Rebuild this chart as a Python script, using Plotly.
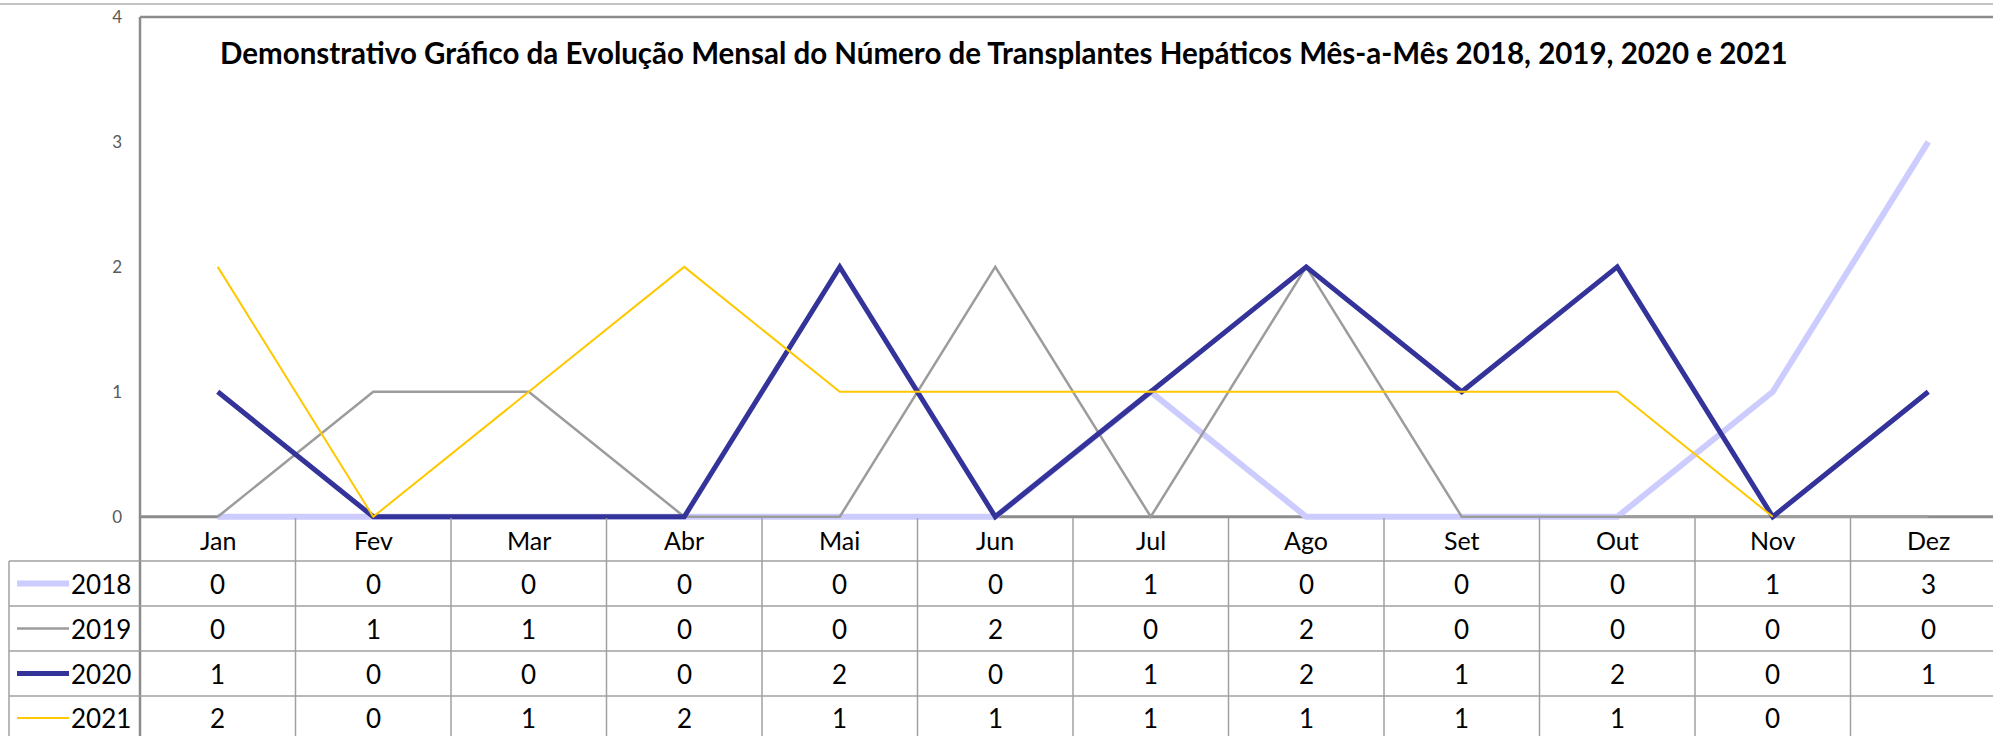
import plotly.graph_objects as go

months = ["Jan", "Fev", "Mar", "Abr", "Mai", "Jun", "Jul", "Ago", "Set", "Out", "Nov", "Dez"]
series_names = ["2018", "2019", "2020", "2021"]
v2018 = [0, 0, 0, 0, 0, 0, 1, 0, 0, 0, 1, 3]
v2019 = [0, 1, 1, 0, 0, 2, 0, 2, 0, 0, 0, 0]
v2020 = [1, 0, 0, 0, 2, 0, 1, 2, 1, 2, 0, 1]
v2021 = [2, 0, 1, 2, 1, 1, 1, 1, 1, 1, 0, None]
series_values = [v2018, v2019, v2020, v2021]
y_ticks = [0, 1, 2, 3, 4]
title = ("Demonstrativo Gráfico da Evolução Mensal do Número de Transplantes "
         "Hepáticos Mês-a-Mês 2018, 2019, 2020 e 2021")

colors = ["#CCCCFF", "#9C9C9C", "#333399", "#FFC800"]
widths = [6, 2.5, 5, 2]

W, H = 1993, 736
L, R, T, B = 140, 1993, 17, 523
PW, PH = R - L, B - T
COLW = 155.5
xmax = -0.5 + PW / COLW
YMIN = -0.05


def px(p):
    return (p - L) / PW


def py(p):
    return (B - p) / PH


font_main = "Lato"
grid_col = "#A0A0A0"

fig = go.Figure()
for name, vals, c, w in zip(series_names, series_values, colors, widths):
    fig.add_trace(go.Scatter(
        x=months, y=vals, name=name, mode="lines",
        line=dict(color=c, width=w), connectgaps=False, showlegend=False,
    ))

shapes = []
shapes.append(dict(type="line", xref="paper", yref="paper", x0=px(0), x1=1,
                   y0=py(4), y1=py(4), line=dict(color="#B0B0B0", width=1.5)))
shapes.append(dict(type="line", xref="paper", yref="paper", x0=0, x1=1,
                   y0=1, y1=1, line=dict(color="#8C8C8C", width=2.5)))
shapes.append(dict(type="line", xref="paper", yref="paper", x0=0, x1=0,
                   y0=1, y1=py(H + 5), line=dict(color="#8C8C8C", width=2.5)))
shapes.append(dict(type="line", xref="paper", yref="y", x0=0, x1=1,
                   y0=0, y1=0, layer="below", line=dict(color="#8C8C8C", width=3)))
for i in range(1, len(months) + 1):
    xp = i * COLW / PW
    if xp <= 1:
        shapes.append(dict(type="line", xref="paper", yref="paper", x0=xp, x1=xp,
                           y0=py(518), y1=py(H + 5), line=dict(color=grid_col, width=1.5)))
row_tops = [561, 606, 651, 696]
for rt in row_tops:
    shapes.append(dict(type="line", xref="paper", yref="paper", x0=px(9), x1=1,
                       y0=py(rt), y1=py(rt), line=dict(color=grid_col, width=1.5)))
shapes.append(dict(type="line", xref="paper", yref="paper", x0=px(9), x1=px(9),
                   y0=py(561), y1=py(H + 5), line=dict(color=grid_col, width=1.5)))

annotations = []
annotations.append(dict(text="<b>" + title + "</b>", xref="paper", yref="paper",
                        x=px(218), y=py(52), xanchor="left", yanchor="middle",
                        showarrow=False, font=dict(family=font_main, size=29.5, color="#000000")))
for m in months:
    annotations.append(dict(text=m, xref="x", yref="paper", x=m, y=py(540),
                            xanchor="center", yanchor="middle", showarrow=False,
                            font=dict(family=font_main, size=25, color="#000000")))
row_centers = [583.5, 628.5, 673.5, 718]
for name, vals, c, w, rc in zip(series_names, series_values, colors, widths, row_centers):
    shapes.append(dict(type="line", xref="paper", yref="paper", x0=px(17), x1=px(69),
                       y0=py(rc), y1=py(rc), line=dict(color=c, width=w)))
    annotations.append(dict(text=name, xref="paper", yref="paper", x=px(133), y=py(rc),
                            xanchor="right", yanchor="middle", showarrow=False,
                            font=dict(family=font_main, size=26, color="#000000")))
    for m, v in zip(months, vals):
        if v is None:
            continue
        annotations.append(dict(text=str(v), xref="x", yref="paper", x=m, y=py(rc),
                                xanchor="center", yanchor="middle", showarrow=False,
                                font=dict(family=font_main, size=26, color="#000000")))

fig.update_layout(
    width=W, height=H,
    margin=dict(l=L, r=W - R, t=T, b=H - B, pad=0),
    paper_bgcolor="white", plot_bgcolor="white",
    shapes=shapes, annotations=annotations,
    xaxis=dict(type="category", categoryorder="array", categoryarray=months,
               range=[-0.5, xmax], showticklabels=False, showgrid=False,
               zeroline=False, showline=False, ticks=""),
    yaxis=dict(range=[YMIN, 4], tickvals=y_ticks, ticktext=[str(t) for t in y_ticks],
               showgrid=False, zeroline=False, showline=False, ticks="",
               ticklabelstandoff=17,
               tickfont=dict(family=font_main, size=17, color="#595959")),
)

fig.write_html("out.html", config={"displayModeBar": False},
               post_script="document.body.style.margin='0';document.body.style.padding='0';document.body.style.overflow='hidden';")
